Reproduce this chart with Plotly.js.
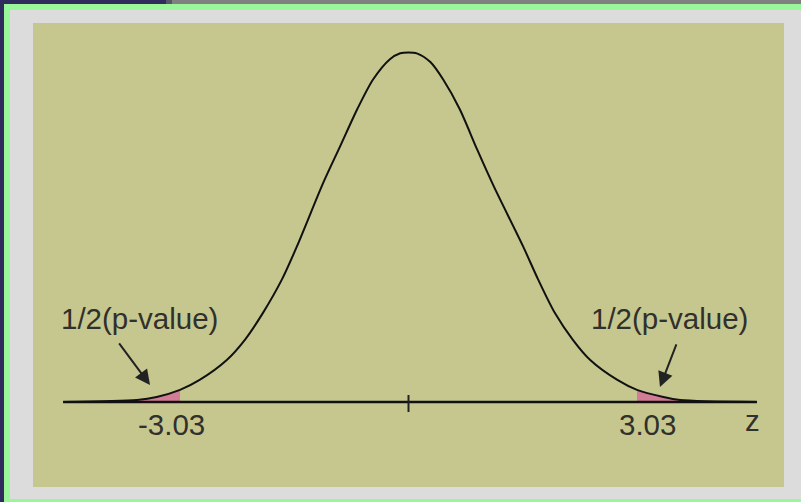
<!DOCTYPE html>
<html>
<head>
<meta charset="utf-8">
<script src="https://cdn.plot.ly/plotly-3.0.1.min.js"></script>
<style>
  html, body { margin: 0; padding: 0; width: 801px; height: 502px; overflow: hidden; background: #dcdcdc; position: relative; }
  .band { position: absolute; }
  #chart { position: absolute; left: 10px; top: 10px; width: 791px; height: 489px; }
</style>
</head>
<body>
<!-- window frame: dark strip, grey strip, green rim -->
<div class="band" style="left:0;top:0;width:166px;height:4px;background:#2f2b5c"></div>
<div class="band" style="left:166px;top:0;width:6px;height:4px;background:#55556a"></div>
<div class="band" style="left:172px;top:0;width:629px;height:4px;background:#808080"></div>
<div class="band" style="left:0;top:0;width:4px;height:502px;background:#2f2b5c"></div>
<div class="band" style="left:4px;top:4px;width:797px;height:6px;background:#99f799"></div>
<div class="band" style="left:4px;top:4px;width:6px;height:498px;background:#99f799"></div>
<div class="band" style="left:4px;top:499px;width:797px;height:3px;background:#99f799"></div>
<div id="chart"></div>
<script>
// Bell curve of the test statistic: z positions and curve heights
const zVals = [-4.58, -3.60, -3.34, -3.03, -2.77, -2.41, -2.17, -1.93, -1.68, -1.48, -1.13,
               -0.91, -0.68, -0.47, -0.25, -0.11, 0, 0.11, 0.29, 0.46, 0.68, 0.91, 1.13,
               1.52, 1.72, 1.94, 2.18, 2.41, 2.77, 3.03, 3.38, 3.60, 4.62];
const density = [0, 0.0023, 0.0057, 0.0138, 0.0252, 0.048, 0.0711, 0.102, 0.140, 0.178, 0.251,
                 0.292, 0.335, 0.369, 0.392, 0.399, 0.400, 0.399, 0.389, 0.369, 0.335, 0.289, 0.247,
                 0.178, 0.140, 0.102, 0.0711, 0.048, 0.0252, 0.0138, 0.0057, 0.0023, 0];

// critical values of the two-sided test and their labels
const critVals = [-3.03, 3.03];
const critLabels = ['-3.03', '3.03'];
// where each shaded tail visibly meets the axis
const tailEnds = [-3.60, 3.60];
const tailLabel = '1/2(p-value)';
const axisName = 'z';
const tickVals = [0];

const textFont = { family: 'Liberation Sans, Arial, sans-serif', size: 29.5, color: '#30302c' };

function tail(lo, hi) {
  const x = [], y = [];
  zVals.forEach((z, i) => { if (z >= lo && z <= hi) { x.push(z); y.push(density[i]); } });
  return { x, y };
}
const leftTail = tail(tailEnds[0], critVals[0]);
const rightTail = tail(critVals[1], tailEnds[1]);

const shade = (t) => ({
  x: t.x, y: t.y, type: 'scatter', mode: 'lines',
  line: { width: 0, shape: 'spline' },
  fill: 'tozeroy', fillcolor: 'rgba(212,112,150,0.85)',
  hoverinfo: 'skip', showlegend: false
});

const traces = [
  shade(leftTail),
  shade(rightTail),
  {
    // horizontal z axis
    x: [zVals[0], zVals[zVals.length - 1]], y: [0, 0],
    type: 'scatter', mode: 'lines',
    line: { color: '#111111', width: 2.5 },
    hoverinfo: 'skip', showlegend: false
  },
  {
    x: zVals, y: density, type: 'scatter', mode: 'lines',
    line: { color: '#111111', width: 2, shape: 'spline', smoothing: 0.8 },
    hoverinfo: 'skip', showlegend: false
  },
  {
    // centre tick
    x: [tickVals[0], tickVals[0]], y: [0.008, -0.0115],
    type: 'scatter', mode: 'lines',
    line: { color: '#222222', width: 2 },
    hoverinfo: 'skip', showlegend: false
  }
];

const annotations = [
  { x: -3.574, y: 0.0961, text: tailLabel, showarrow: false, font: textFont, xanchor: 'center', yanchor: 'middle' },
  { x: 3.455, y: 0.0961, text: tailLabel, showarrow: false, font: textFont, xanchor: 'center', yanchor: 'middle' },
  { x: -3.428, y: 0.0195, text: '', showarrow: true, ax: -32, ay: -43,
    arrowhead: 2, arrowsize: 1.5, arrowwidth: 2, arrowcolor: '#222222', standoff: 0 },
  { x: 3.335, y: 0.0172, text: '', showarrow: true, ax: 17, ay: -44,
    arrowhead: 2, arrowsize: 1.5, arrowwidth: 2, arrowcolor: '#222222', standoff: 0 },
  { x: critVals[0], y: -0.0252, xshift: -9, text: critLabels[0], showarrow: false, font: textFont, xanchor: 'center', yanchor: 'middle' },
  { x: critVals[1], y: -0.0252, xshift: 11, text: critLabels[1], showarrow: false, font: textFont, xanchor: 'center', yanchor: 'middle' },
  { x: 4.556, y: -0.021, text: axisName, showarrow: false, font: textFont, xanchor: 'center', yanchor: 'middle' }
];

const layout = {
  width: 791, height: 489,
  margin: { l: 23, r: 17, t: 13, b: 12, pad: 0 },
  paper_bgcolor: 'rgba(0,0,0,0)',
  plot_bgcolor: '#c6c78f',
  showlegend: false,
  xaxis: { range: [-4.98, 4.98], visible: false, fixedrange: true },
  yaxis: { range: [-0.0973, 0.4337], visible: false, fixedrange: true },
  annotations: annotations
};

Plotly.newPlot('chart', traces, layout, { staticPlot: true, displayModeBar: false });
</script>
</body>
</html>
